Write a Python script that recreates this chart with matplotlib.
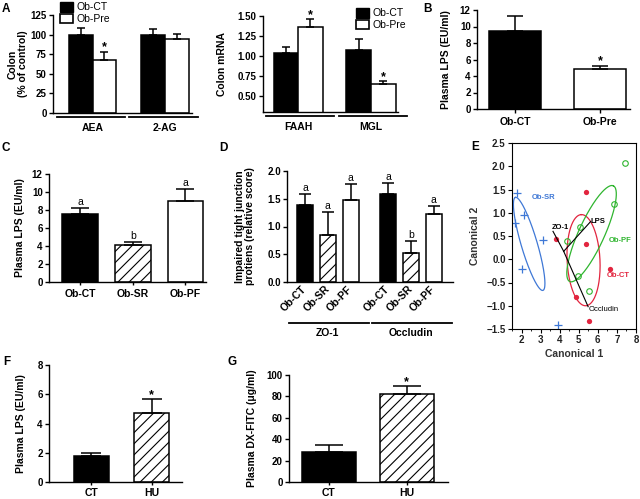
import numpy as np
import matplotlib
matplotlib.use('Agg')
import matplotlib.pyplot as plt
from matplotlib.patches import Patch
import matplotlib.transforms as mtrans

# ---------------- data ----------------
# Panel A (left): colon endocannabinoid levels (% of control)
a1_groups = ['AEA', '2-AG']
a1_ct = [100, 100]
a1_ct_err = [9, 7]
a1_pre = [67, 94]
a1_pre_err = [11, 7]
a1_pre_sig = [True, False]

# Panel A (right): colon mRNA
a2_groups = ['FAAH', 'MGL']
a2_ct = [1.04, 1.07]
a2_ct_err = [0.07, 0.14]
a2_pre = [1.36, 0.645]
a2_pre_err = [0.10, 0.04]
a2_pre_sig = [True, True]

# Panel B: plasma LPS
b_groups = ['Ob-CT', 'Ob-Pre']
b_vals = [9.45, 4.85]
b_err = [1.85, 0.40]

# Panel C: plasma LPS
c_groups = ['Ob-CT', 'Ob-SR', 'Ob-PF']
c_vals = [7.55, 4.10, 9.05]
c_err = [0.70, 0.38, 1.25]
c_letters = ['a', 'b', 'a']

# Panel D: impaired tight junction proteins
d_groups = ['ZO-1', 'Occludin']
d_cats = ['Ob-CT', 'Ob-SR', 'Ob-PF']
d_zo1 = [1.39, 0.85, 1.47]
d_zo1_err = [0.20, 0.41, 0.30]
d_zo1_letters = ['a', 'a', 'a']
d_occ = [1.58, 0.52, 1.22]
d_occ_err = [0.20, 0.21, 0.15]
d_occ_letters = ['a', 'b', 'a']

# Panel E: canonical discriminant analysis
e_sr_x = [1.75, 2.12, 1.68, 3.12, 2.02, 3.91]
e_sr_y = [1.42, 0.96, 0.78, 0.42, -0.20, -1.42]
e_ct_x = [5.37, 3.83, 5.37, 6.63, 4.88, 5.54]
e_ct_y = [1.44, 0.43, 0.32, -0.20, -0.81, -1.32]
e_pf_x = [7.42, 6.86, 5.09, 4.39, 4.96, 5.54]
e_pf_y = [2.06, 1.19, 0.69, 0.39, -0.35, -0.69]
# ellipses: centre, half-axis vector a, half-axis vector b (data units)
e_sr_ell = [(2.40, 0.33), (-0.72, 1.00), (0.405, 0.047)]
e_ct_ell = [(5.25, -0.02), (-0.12, 0.98), (0.86, 0.017)]
e_pf_ell = [(5.67, 0.55), (1.14, 1.03), (0.62, -0.11)]
e_origin = (4.21, 0.17)
e_vec_names = ['LPS', 'ZO-1', 'Occludin']
e_vec_x = [5.62, 3.65, 5.49]
e_vec_y = [0.81, 0.60, -1.02]

# Panel F: plasma LPS
f_groups = ['CT', 'HU']
f_vals = [1.75, 4.70]
f_err = [0.22, 1.00]

# Panel G: plasma DX-FITC
g_groups = ['CT', 'HU']
g_vals = [28, 82]
g_err = [6.5, 8.0]

# ---------------- style ----------------
plt.rcParams['font.family'] = ['Liberation Sans', 'DejaVu Sans']
plt.rcParams['font.weight'] = 'bold'
plt.rcParams['axes.labelweight'] = 'bold'
plt.rcParams['axes.linewidth'] = 1.0
plt.rcParams['hatch.linewidth'] = 0.8

W, H = 640, 499
fig = plt.figure(figsize=(6.4, 4.99), dpi=100)


def rect(l, t, r, b):
    return [l / W, 1 - b / H, (r - l) / W, (b - t) / H]


BLACK = ('black', '')
WHITE = ('white', '')
HATCH = ('white', '///')
LW = 1.1


def base(ax, yticks, fmt, ylab, labx, xtick_len=0):
    ax.spines['top'].set_visible(False)
    ax.spines['right'].set_visible(False)
    ax.set_ylim(yticks[0], yticks[-1])
    ax.set_yticks(yticks)
    ax.set_yticklabels([fmt % v for v in yticks])
    ax.tick_params(axis='y', direction='out', length=3, width=1, labelsize=7, pad=1.5)
    ax.tick_params(axis='x', direction='out', length=xtick_len, width=1, labelsize=7.5)
    ax.set_ylabel(ylab, fontsize=7.5, fontweight='bold', linespacing=1.0)
    ax.yaxis.set_label_coords(labx, 0.5)


def draw_bars(ax, xs, vals, errs, width, styles, capsize):
    for xi, v, e, st in zip(xs, vals, errs, styles):
        fc, hatch = st
        ax.bar(xi, v, width, color=fc, edgecolor='black', linewidth=LW, hatch=hatch, zorder=2)
        ax.errorbar(xi, v, yerr=[[0], [e]], fmt='none', ecolor='black', elinewidth=LW,
                    capsize=capsize, capthick=LW, zorder=3)


def group_line(ax, x0, x1, yax):
    tr = mtrans.blended_transform_factory(ax.transData, ax.transAxes)
    ax.plot([x0, x1], [yax, yax], color='black', lw=1.3, transform=tr, clip_on=False)


def mark(ax, x, y, s, size=9, weight='bold', dy=0.0):
    ax.text(x, y + dy, s, ha='center', va='bottom', fontsize=size, fontweight=weight)


def legend(pos):
    fig.legend([Patch(facecolor='black', edgecolor='black'),
                Patch(facecolor='white', edgecolor='black', lw=1.2)],
               ['Ob-CT', 'Ob-Pre'], loc='upper left', bbox_to_anchor=pos,
               frameon=False, prop={'size': 7.5, 'weight': 'normal'}, handlelength=1.25,
               handleheight=1.05, handletextpad=0.3, labelspacing=0.12, borderpad=0,
               borderaxespad=0)


# ---------------- Panel A left ----------------
ax = fig.add_axes(rect(53, 15, 192, 113))
g = np.arange(len(a1_groups))
w = 0.33
base(ax, [0, 25, 50, 75, 100, 125], '%d', 'Colon\n(% of control)', -0.18)
draw_bars(ax, g - w / 2, a1_ct, a1_ct_err, w, [BLACK] * 2, 3.2)
draw_bars(ax, g + w / 2, a1_pre, a1_pre_err, w, [WHITE] * 2, 3.2)
for i, s in enumerate(a1_pre_sig):
    if s:
        mark(ax, g[i] + w / 2, a1_pre[i] + a1_pre_err[i], '*', dy=-2)
ax.set_xlim(-0.545, 1.372)
ax.set_xticks(g)
ax.set_xticklabels(a1_groups)
ax.tick_params(axis='x', pad=7)
for gi in g:
    group_line(ax, gi - 0.49, gi + 0.45, -0.04)
legend((60 / W, 1 - 2 / H))

# ---------------- Panel A right ----------------
ax = fig.add_axes(rect(263, 16, 398, 112))
g = np.arange(len(a2_groups))
w = 0.336
base(ax, [0.30, 0.50, 0.75, 1.00, 1.25, 1.50], '%.2f', 'Colon mRNA', -0.27)
ax.set_yticks([0.50, 0.75, 1.00, 1.25, 1.50])
ax.set_yticklabels(['0.50', '0.75', '1.00', '1.25', '1.50'])
draw_bars(ax, g - w / 2, a2_ct, a2_ct_err, w, [BLACK] * 2, 3.2)
draw_bars(ax, g + w / 2, a2_pre, a2_pre_err, w, [WHITE] * 2, 3.2)
for i, s in enumerate(a2_pre_sig):
    if s:
        mark(ax, g[i] + w / 2, a2_pre[i] + a2_pre_err[i], '*', dy=-0.02)
ax.set_xlim(-0.48, 1.37)
ax.set_xticks(g)
ax.set_xticklabels(a2_groups)
ax.tick_params(axis='x', pad=7)
for gi in g:
    group_line(ax, gi - 0.44, gi + 0.49, -0.04)
legend((356 / W, 1 - 8 / H))

# ---------------- Panel B ----------------
ax = fig.add_axes(rect(477, 10, 630, 109))
g = np.arange(len(b_groups))
base(ax, [0, 2, 4, 6, 8, 10, 12], '%d', 'Plasma LPS (EU/ml)', -0.17, xtick_len=3)
draw_bars(ax, g, b_vals, b_err, 0.61, [BLACK, WHITE], 6)
mark(ax, g[1], b_vals[1] + b_err[1], '*', dy=-0.2)
ax.set_xlim(-0.447, 1.35)
ax.set_xticks(g)
ax.set_xticklabels(b_groups)
ax.tick_params(axis='x', pad=3)

# ---------------- Panel C ----------------
ax = fig.add_axes(rect(49, 174, 206, 282))
g = np.arange(len(c_groups))
base(ax, [0, 2, 4, 6, 8, 10, 12], '%d', 'Plasma LPS (EU/ml)', -0.15, xtick_len=2)
draw_bars(ax, g, c_vals, c_err, 0.68, [BLACK, HATCH, WHITE], 6.5)
for i, s in enumerate(c_letters):
    mark(ax, g[i], c_vals[i] + c_err[i], s, size=7.5, weight='normal', dy=0.1)
ax.set_xlim(-0.588, 2.39)
ax.set_xticks(g)
ax.set_xticklabels(c_groups)
ax.tick_params(axis='x', pad=3)

# ---------------- Panel D ----------------
ax = fig.add_axes(rect(287, 171, 453, 282))
base(ax, [0.0, 0.5, 1.0, 1.5, 2.0], '%.1f',
     'Impaired tight junction\nprotiens (relative score)', -0.19)
w = 0.70
gap = 3.65
pos_all = []
for gi, (vals, errs, lets) in enumerate([(d_zo1, d_zo1_err, d_zo1_letters),
                                         (d_occ, d_occ_err, d_occ_letters)]):
    xs = gi * gap + np.arange(len(d_cats))
    pos_all.extend(xs)
    draw_bars(ax, xs, vals, errs, w, [BLACK, HATCH, WHITE], 4.3)
    for xi, v, e, s in zip(xs, vals, errs, lets):
        mark(ax, xi, v + e, s, size=7.5, weight='normal', dy=0.02)
    c = gi * gap + 1
    group_line(ax, c - 1.72, c + 1.8, -0.37)
    tr = mtrans.blended_transform_factory(ax.transData, ax.transAxes)
    ax.text(c, -0.46, d_groups[gi], ha='center', va='center', fontsize=7.5,
            fontweight='bold', transform=tr)
ax.set_xlim(-0.79, 6.5)
ax.set_xticks(pos_all)
ax.set_xticklabels(d_cats * 2, rotation=45, ha='right', va='center', rotation_mode='anchor')
ax.tick_params(axis='x', pad=4)

# ---------------- Panel E ----------------
ax = fig.add_axes(rect(512, 143, 636, 329))
ecol = {'SR': '#3f78d6', 'CT': '#e2253f', 'PF': '#2fb52f'}
t = np.linspace(0, 2 * np.pi, 200)
for (cx, cy), (ax_, ay_), (bx_, by_), col in [(e_sr_ell[0], e_sr_ell[1], e_sr_ell[2], ecol['SR']),
                                               (e_ct_ell[0], e_ct_ell[1], e_ct_ell[2], ecol['CT']),
                                               (e_pf_ell[0], e_pf_ell[1], e_pf_ell[2], ecol['PF'])]:
    ax.plot(cx + ax_ * np.cos(t) + bx_ * np.sin(t), cy + ay_ * np.cos(t) + by_ * np.sin(t),
            color=col, lw=0.9)
ax.plot(e_sr_x, e_sr_y, '+', color=ecol['SR'], ms=6, mew=0.9, ls='none')
ax.plot(e_ct_x, e_ct_y, 'o', color=ecol['CT'], ms=3.8, mew=0, ls='none')
ax.plot(e_pf_x, e_pf_y, 'o', mfc='none', mec=ecol['PF'], ms=4.0, mew=0.8, ls='none')
for name, vx, vy in zip(e_vec_names, e_vec_x, e_vec_y):
    ax.plot([e_origin[0], vx], [e_origin[1], vy], color='black', lw=0.8)
ax.text(e_vec_x[0], e_vec_y[0], 'LPS', fontsize=5.5, ha='left', va='center', fontweight='bold')
ax.text(e_vec_x[1] - 0.05, e_vec_y[1], 'ZO-1', fontsize=5.5, ha='left', va='bottom', fontweight='bold')
ax.text(e_vec_x[2] + 0.05, e_vec_y[2] - 0.05, 'Occludin', fontsize=5.5, ha='left', va='center',
        fontweight='normal')
ax.text(2.56, 1.33, 'Ob-SR', color=ecol['SR'], fontsize=5.5, ha='left', va='center')
ax.text(6.58, 0.41, 'Ob-PF', color=ecol['PF'], fontsize=5.5, ha='left', va='center')
ax.text(6.46, -0.34, 'Ob-CT', color=ecol['CT'], fontsize=5.5, ha='left', va='center')
ax.set_xlim(1.5, 8)
ax.set_ylim(-1.5, 2.5)
ax.set_xticks(np.arange(2, 9))
ax.set_xticks(np.arange(1.5, 8.01, 0.5), minor=True)
yt = np.arange(-1.5, 2.51, 0.5)
ax.set_yticks(yt)
ax.set_yticklabels(['%.1f' % v if v >= 0 else '\u2212%.1f' % abs(v) for v in yt])
ax.tick_params(axis='both', which='major', direction='out', length=3, width=0.8, labelsize=7, pad=1.5,
               labelcolor='#222222')
ax.tick_params(axis='x', which='minor', direction='out', length=1.5, width=0.6)
ax.set_ylabel('Canonical 2', fontsize=7.5, fontweight='bold', color='#333333')
ax.yaxis.set_label_coords(-0.26, 0.5)
ax.set_xlabel('Canonical 1', fontsize=7.5, fontweight='bold', color='#333333')
ax.xaxis.set_label_coords(0.5, -0.11)
for s in ax.spines.values():
    s.set_linewidth(0.8)

# ---------------- Panel F ----------------
ax = fig.add_axes(rect(49, 365, 182, 482))
g = np.arange(len(f_groups))
base(ax, [0, 2, 4, 6, 8], '%d', 'Plasma LPS (EU/ml)', -0.17, xtick_len=2)
draw_bars(ax, g, f_vals, f_err, 0.58, [BLACK, HATCH], 7)
mark(ax, g[1], f_vals[1] + f_err[1], '*', dy=-0.15)
ax.set_xlim(-0.70, 1.5)
ax.set_xticks(g)
ax.set_xticklabels(f_groups)
ax.tick_params(axis='x', pad=2)

# ---------------- Panel G ----------------
ax = fig.add_axes(rect(289, 375, 448, 482))
g = np.arange(len(g_groups))
base(ax, [0, 20, 40, 60, 80, 100], '%d', 'Plasma DX-FITC (\u03bcg/ml)', -0.20, xtick_len=2)
draw_bars(ax, g, g_vals, g_err, 0.69, [BLACK, HATCH], 10)
mark(ax, g[1], g_vals[1] + g_err[1], '*', dy=-2)
ax.set_xlim(-0.51, 1.53)
ax.set_xticks(g)
ax.set_xticklabels(g_groups)
ax.tick_params(axis='x', pad=2)

# ---------------- panel letters ----------------
for letter, x, y in [('A', 2, 3), ('B', 423, 3), ('C', 2, 142), ('D', 219, 142),
                     ('E', 471, 141), ('F', 3, 356), ('G', 227, 356)]:
    fig.text(x / W, 1 - y / H, letter, fontsize=8.5, fontweight='bold', ha='left', va='top')

fig.savefig('out.png', dpi=100)
